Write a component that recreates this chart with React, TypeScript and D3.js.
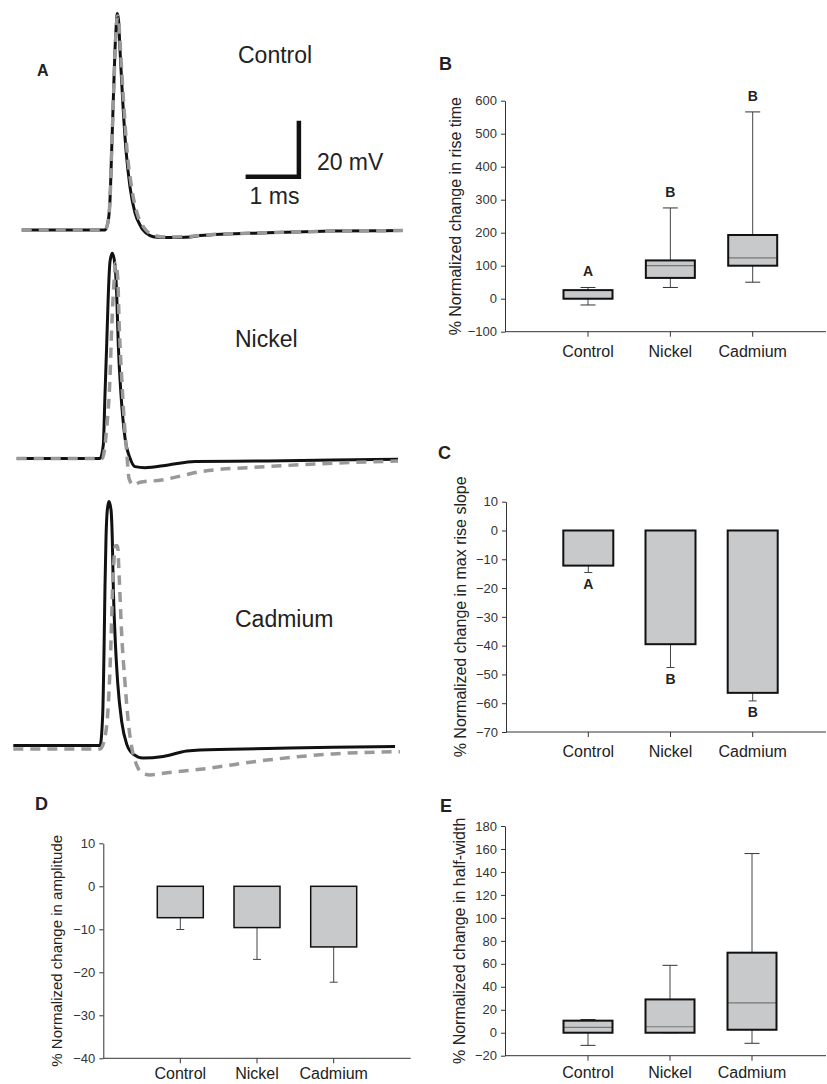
import React, { useEffect, useRef } from 'react';
import * as d3 from 'd3';

type Pt = [number, number];

const groups = ['Control', 'Nickel', 'Cadmium'];

// panel A traces: [time ms, mV from resting level]
const controlBefore: Pt[] = [
  [0.22, 0], [1.31, 0], [1.78, 0], [1.84, 2.9], [1.876, 10.7], [1.908, 28.6], [1.938, 46.4],
  [1.97, 64.3], [1.994, 73.2], [2.013, 77.3], [2.036, 75], [2.064, 64.3], [2.114, 46.4],
  [2.176, 28.6], [2.251, 15.4], [2.345, 6.1], [2.439, 1.8], [2.495, 0], [2.627, -2],
  [2.758, -2.6], [3.0, -2.7], [3.377, -2.5], [3.565, -2], [4.822, -1], [6.06, -0.4], [7.373, -0.2],
];
const controlAfter: Pt[] = [
  [0.22, 0], [1.31, 0], [1.78, 0], [1.84, 2.9], [1.876, 10.7], [1.908, 28.6], [1.94, 46.4],
  [1.973, 64.3], [1.997, 73], [2.017, 76.4], [2.04, 74.5], [2.073, 64.3], [2.129, 46.4],
  [2.195, 28.6], [2.28, 15.4], [2.383, 6.1], [2.495, 1.4], [2.57, -0.4], [2.72, -2],
  [2.908, -2.5], [3.377, -2.3], [3.565, -1.9], [4.822, -1], [6.06, -0.4], [7.373, -0.2],
];
const nickelBefore: Pt[] = [
  [0.126, 0], [1.313, 0], [1.689, 0], [1.75, 4.8], [1.782, 22.7], [1.814, 40.5], [1.844, 58.4],
  [1.876, 70.3], [1.919, 73.3], [1.97, 69.1], [2.002, 58.4], [2.032, 40.5], [2.083, 22.7],
  [2.158, 7.3], [2.251, 0.2], [2.345, -2.9], [2.533, -3.3], [2.97, -2.3], [3.471, -1.1],
  [4.822, -0.9], [6.06, -0.5], [7.28, -0.3],
];
const nickelAfter: Pt[] = [
  [0.126, 0], [1.313, 0], [1.732, 0], [1.814, 10.9], [1.876, 28.8], [1.908, 46.6], [1.957, 64.5],
  [1.983, 69.8], [2.021, 64.5], [2.051, 46.6], [2.096, 28.8], [2.144, 13.1], [2.189, 2.4],
  [2.233, -7.1], [2.313, -9.5], [2.439, -8.5], [2.846, -7.7], [3.283, -5.9], [3.565, -4.7],
  [4.822, -2.9], [6.06, -1.7], [7.28, -0.9],
];
const cadmiumBefore: Pt[] = [
  [0.062, 0], [1.313, 0], [1.689, 0], [1.739, 10.9], [1.764, 33.8], [1.782, 56.6], [1.801, 73.9],
  [1.826, 84.2], [1.857, 87.1], [1.895, 84.2], [1.919, 73.9], [1.938, 56.6], [1.97, 39.5],
  [2.021, 22.3], [2.096, 8.5], [2.189, 0.5], [2.313, -3.1], [2.495, -4.5], [2.876, -3.9],
  [3.315, -2.0], [3.565, -1.6], [4.822, -1.1], [6.06, -0.6], [7.223, -0.4],
];
const cadmiumAfter: Pt[] = [
  [0.062, -1.25], [1.313, -1.25], [1.689, -1.25], [1.782, 3], [1.844, 14.5], [1.889, 33.8],
  [1.926, 56.6], [1.957, 68], [1.979, 71.3], [2.017, 71.3], [2.051, 59.1], [2.096, 39.5],
  [2.158, 22.3], [2.219, 8.4], [2.283, -0.5], [2.377, -7], [2.477, -9.8], [2.627, -10.5],
  [2.908, -9.8], [3.565, -8.5], [4.822, -5.2], [6.06, -3], [7.317, -2.2],
];
const scaleBarMs = 1;
const scaleBarMv = 20;

// panel B: rise time box plots
const riseMin = [-19, 34, 50];
const riseQ1 = [0, 63, 100];
const riseMedian = [0, 100, 124];
const riseQ3 = [26, 116, 193];
const riseMax = [34, 275, 566];
const riseLetters = ['A', 'B', 'B'];
const riseTicks = [-100, 0, 100, 200, 300, 400, 500, 600];

// panel C: max rise slope, mean and SE
const slopeMean = [-12.2, -39.5, -56.4];
const slopeErr = [2.4, 8.1, 2.8];
const slopeLetters = ['A', 'B', 'B'];
const slopeTicks = [-70, -60, -50, -40, -30, -20, -10, 0, 10];

// panel D: amplitude, mean and SE
const ampMean = [-7.3, -9.6, -14.1];
const ampErr = [2.75, 7.4, 8.2];
const ampTicks = [-40, -30, -20, -10, 0, 10];

// panel E: half-width box plots
const hwMin = [-11, 0, -9.2];
const hwQ1 = [0, 0, 2.6];
const hwMedian = [4.7, 5.2, 26];
const hwQ3 = [10.5, 29, 69.7];
const hwMax = [11.5, 58.7, 156];
const hwTicks = [-20, 0, 20, 40, 60, 80, 100, 120, 140, 160, 180];

const FONT = '"Liberation Sans", Arial, Helvetica, sans-serif';
const FILL = '#c8c9cb';

type Sel = d3.Selection<SVGSVGElement, unknown, null, undefined>;

function drawFrame(
  svg: Sel, y: d3.ScaleLinear<number, number>, x: d3.ScalePoint<string>,
  axisX: number, right: number, ticks: number[], title: string, titleX: number, titleSize: number,
  labelGap: number
) {
  const g = svg.append('g')
    .attr('transform', `translate(${axisX},0)`)
    .call(d3.axisLeft(y).tickValues(ticks).tickSize(4).tickPadding(4).tickSizeOuter(0).tickFormat(d3.format('d')));
  g.attr('font-family', FONT).attr('font-size', 13);
  g.select('.domain').attr('stroke', '#333');
  g.selectAll('.tick line').attr('stroke', '#333');
  g.selectAll('.tick text').attr('fill', '#333');

  const y0 = y(y.domain()[0]);
  svg.append('line').attr('x1', axisX).attr('x2', right).attr('y1', y0).attr('y2', y0)
    .attr('stroke', '#333');
  svg.selectAll(null).data(groups).enter().append('line')
    .attr('x1', (d) => x(d)!).attr('x2', (d) => x(d)!)
    .attr('y1', y0).attr('y2', y0 + 5).attr('stroke', '#333');
  svg.selectAll(null).data(groups).enter().append('text')
    .attr('x', (d) => x(d)!).attr('y', y0 + labelGap)
    .attr('text-anchor', 'middle').attr('font-family', FONT).attr('font-size', 16).attr('fill', '#222')
    .text((d) => d);

  const [r0, r1] = y.range();
  svg.append('text')
    .attr('transform', `translate(${titleX},${(r0 + r1) / 2}) rotate(-90)`)
    .attr('text-anchor', 'middle').attr('font-family', FONT).attr('font-size', titleSize).attr('fill', '#222')
    .text(title);
}

function drawBoxes(
  svg: Sel, y: d3.ScaleLinear<number, number>, x: d3.ScalePoint<string>, w: number,
  mn: number[], q1: number[], med: number[], q3: number[], mx: number[]
) {
  const cap = 15;
  groups.forEach((gName, i) => {
    const cx = x(gName)!;
    const g = svg.append('g');
    g.append('line').attr('x1', cx).attr('x2', cx).attr('y1', y(q3[i])).attr('y2', y(mx[i]))
      .attr('stroke', '#444');
    g.append('line').attr('x1', cx).attr('x2', cx).attr('y1', y(q1[i])).attr('y2', y(mn[i]))
      .attr('stroke', '#444');
    [mx[i], mn[i]].forEach((v) => {
      g.append('line').attr('x1', cx - cap / 2).attr('x2', cx + cap / 2)
        .attr('y1', y(v)).attr('y2', y(v)).attr('stroke', '#333');
    });
    g.append('rect').attr('x', cx - w / 2).attr('y', y(q3[i])).attr('width', w)
      .attr('height', y(q1[i]) - y(q3[i])).attr('fill', FILL);
    g.append('line').attr('x1', cx - w / 2).attr('x2', cx + w / 2)
      .attr('y1', y(med[i])).attr('y2', y(med[i])).attr('stroke', '#777').attr('stroke-width', 1.2);
    g.append('rect').attr('x', cx - w / 2).attr('y', y(q3[i])).attr('width', w)
      .attr('height', y(q1[i]) - y(q3[i])).attr('fill', 'none')
      .attr('stroke', '#111').attr('stroke-width', 2);
  });
}

function drawBars(
  svg: Sel, y: d3.ScaleLinear<number, number>, x: d3.ScalePoint<string>, w: number,
  mean: number[], err: number[], sw: number
) {
  const cap = 8;
  groups.forEach((gName, i) => {
    const cx = x(gName)!;
    const lo = mean[i] - err[i];
    svg.append('line').attr('x1', cx).attr('x2', cx).attr('y1', y(mean[i])).attr('y2', y(lo))
      .attr('stroke', '#444');
    svg.append('line').attr('x1', cx - cap / 2).attr('x2', cx + cap / 2)
      .attr('y1', y(lo)).attr('y2', y(lo)).attr('stroke', '#444');
    svg.append('rect').attr('x', cx - w / 2).attr('y', y(0)).attr('width', w)
      .attr('height', y(mean[i]) - y(0)).attr('fill', FILL)
      .attr('stroke', '#111').attr('stroke-width', sw);
  });
}

function panelLetter(svg: Sel, t: string, x: number, y: number, size: number) {
  svg.append('text').attr('x', x).attr('y', y).attr('font-family', FONT)
    .attr('font-weight', 'bold').attr('font-size', size).attr('fill', '#222').text(t);
}

const App = () => {
  const ref = useRef<SVGSVGElement>(null);

  useEffect(() => {
    const svg = d3.select(ref.current!) as Sel;
    svg.selectAll('*').remove();

    // ---------- A: traces ----------
    const t = d3.scaleLinear().domain([0, 7.5]).range([10, 10 + 7.5 * 53.3]);
    const rows = [
      { label: 'Control', before: controlBefore, after: controlAfter, base: 230, lx: 238, ly: 63 },
      { label: 'Nickel', before: nickelBefore, after: nickelAfter, base: 458.5, lx: 235, ly: 347 },
      { label: 'Cadmium', before: cadmiumBefore, after: cadmiumAfter, base: 745.5, lx: 235, ly: 627 },
    ];
    rows.forEach((r, i) => {
      const v = d3.scaleLinear().domain([0, 20]).range([r.base, r.base - 56]);
      const line = d3.line<Pt>().x((d) => t(d[0])).y((d) => v(d[1])).curve(d3.curveMonotoneX);
      svg.append('path').attr('d', line(r.before)).attr('fill', 'none')
        .attr('stroke', '#111').attr('stroke-width', 3).attr('stroke-linejoin', 'round');
      svg.append('path').attr('d', line(r.after)).attr('fill', 'none')
        .attr('stroke', '#999').attr('stroke-width', 3.5).attr('stroke-dasharray', '10,7');
      svg.append('text').attr('x', r.lx).attr('y', r.ly).attr('font-family', FONT)
        .attr('font-size', 23).attr('fill', '#222').text(r.label);
      if (i === 0) {
        const t0 = 4.42;
        const v0 = 19;
        svg.append('path')
          .attr('d', `M${t(t0)},${v(v0)}H${t(t0 + scaleBarMs)}V${v(v0 + scaleBarMv)}`)
          .attr('fill', 'none').attr('stroke', '#111').attr('stroke-width', 4.5)
          .attr('stroke-linejoin', 'miter');
        svg.append('text').attr('x', t(t0 + scaleBarMs) + 18).attr('y', 170)
          .attr('font-family', FONT).attr('font-size', 23).attr('fill', '#222')
          .text(`${scaleBarMv} mV`);
        svg.append('text').attr('x', t(t0) + 4).attr('y', 204)
          .attr('font-family', FONT).attr('font-size', 23).attr('fill', '#222')
          .text(`${scaleBarMs} ms`);
      }
    });
    panelLetter(svg, 'A', 37, 76, 16);

    // ---------- B ----------
    const yB = d3.scaleLinear().domain([-100, 600]).range([331.7, 100.7]);
    const xB = d3.scalePoint<string>().domain(groups).range([588, 752.7]);
    drawFrame(svg, yB, xB, 505, 826, riseTicks, '% Normalized change in rise time', 461, 16, 25);
    drawBoxes(svg, yB, xB, 49, riseMin, riseQ1, riseMedian, riseQ3, riseMax);
    svg.selectAll(null).data(groups).enter().append('text')
      .attr('x', (d) => xB(d)!).attr('y', (_, i) => yB(riseMax[i]) - 11)
      .attr('text-anchor', 'middle').attr('font-family', FONT).attr('font-weight', 'bold')
      .attr('font-size', 14).attr('fill', '#222').text((_, i) => riseLetters[i]);
    panelLetter(svg, 'B', 439, 70, 18);

    // ---------- C ----------
    const yC = d3.scaleLinear().domain([-70, 10]).range([732, 501.7]);
    const xC = d3.scalePoint<string>().domain(groups).range([588.3, 752.7]);
    drawFrame(svg, yC, xC, 506, 826, slopeTicks, '% Normalized change in max rise slope', 466, 16, 25);
    drawBars(svg, yC, xC, 50, slopeMean, slopeErr, 2);
    svg.selectAll(null).data(groups).enter().append('text')
      .attr('x', (d) => xC(d)!).attr('y', (_, i) => yC(slopeMean[i] - slopeErr[i]) + 16)
      .attr('text-anchor', 'middle').attr('font-family', FONT).attr('font-weight', 'bold')
      .attr('font-size', 14).attr('fill', '#222').text((_, i) => slopeLetters[i]);
    panelLetter(svg, 'C', 438, 458.5, 18);

    // ---------- D ----------
    const yD = d3.scaleLinear().domain([-40, 10]).range([1058.3, 843.3]);
    const xD = d3.scalePoint<string>().domain(groups).range([180.3, 333.7]);
    drawFrame(svg, yD, xD, 103.3, 410.7, ampTicks, '% Normalized change in amplitude', 62, 15, 21);
    drawBars(svg, yD, xD, 46, ampMean, ampErr, 1.5);
    panelLetter(svg, 'D', 35, 810, 18);

    // ---------- E ----------
    const yE = d3.scaleLinear().domain([-20, 180]).range([1055.7, 826]);
    const xE = d3.scalePoint<string>().domain(groups).range([588, 752]);
    drawFrame(svg, yE, xE, 505, 826, hwTicks, '% Normalized change in half-width', 465, 16, 22);
    drawBoxes(svg, yE, xE, 49, hwMin, hwQ1, hwMedian, hwQ3, hwMax);
    panelLetter(svg, 'E', 440, 812, 18);
  }, []);

  return (
    <svg
      ref={ref}
      width={827}
      height={1084}
      style={{ position: 'absolute', left: 0, top: 0, background: '#fff' }}
    />
  );
};

export default App;
